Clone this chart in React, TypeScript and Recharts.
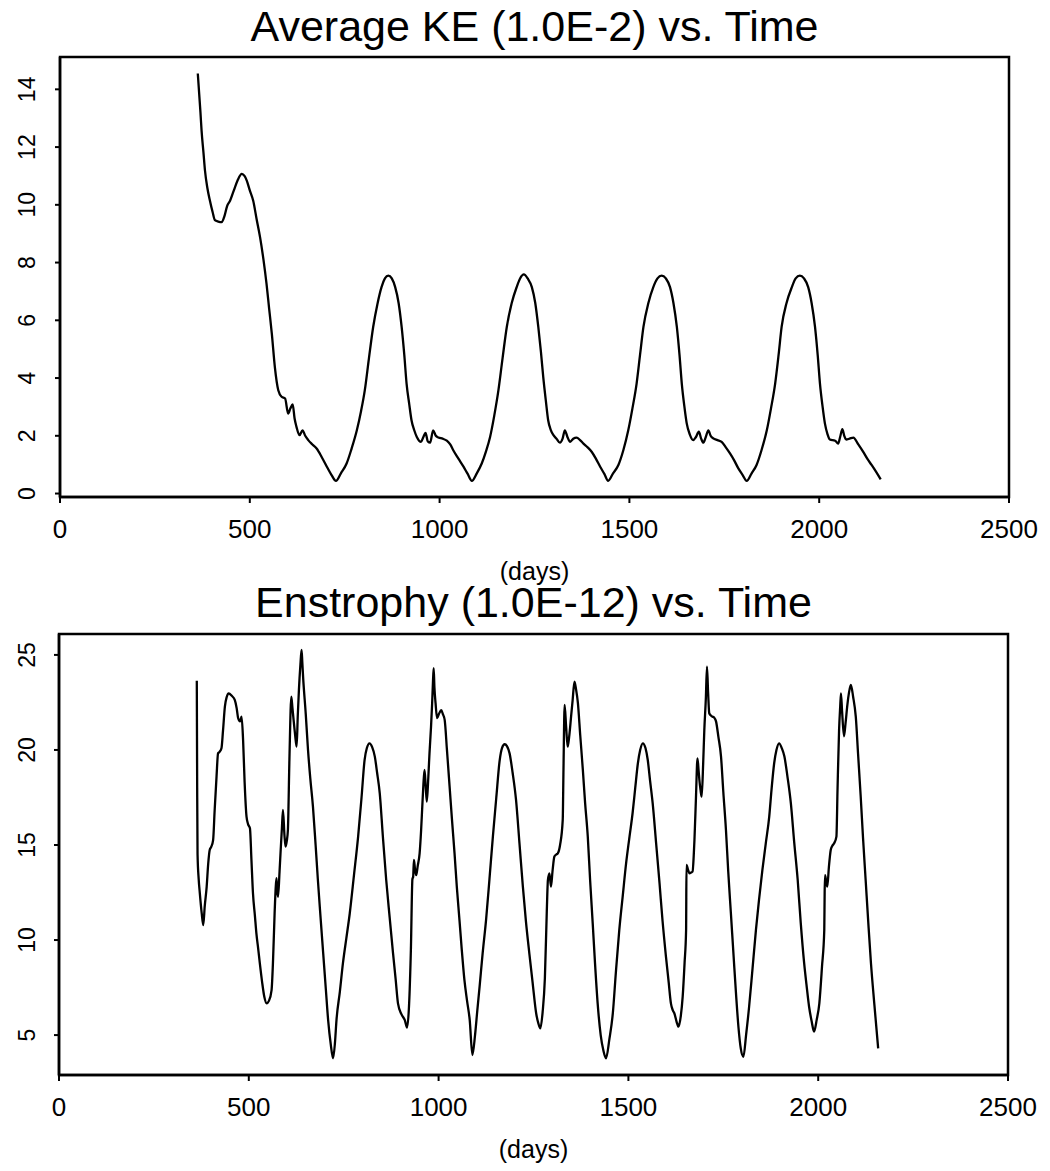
import React from 'react';
import { LineChart, Line, XAxis, YAxis, ReferenceArea } from 'recharts';

const FONT = '"Liberation Sans", Arial, Helvetica, sans-serif';

const keTitle = 'Average KE (1.0E-2) vs. Time';
const enTitle = 'Enstrophy (1.0E-12) vs. Time';
const xLabel = '(days)';

const xTicks = [0, 500, 1000, 1500, 2000, 2500];
const keTicks = [0, 2, 4, 6, 8, 10, 12, 14];
const enTicks = [5, 10, 15, 20, 25];

const keDays = [
  363, 370, 373, 378, 382, 388, 395, 402, 408, 417, 426, 433, 440, 448, 458, 468, 479, 486, 492, 500,
  509, 518, 527, 536, 544, 551, 558, 566, 575, 584, 593, 601, 607, 613, 618, 623, 631, 639, 646, 654,
  665, 676, 690, 703, 715, 727, 740, 755, 768, 782, 793, 803, 814, 825, 836, 847, 856, 865, 874, 883,
  892, 900, 907, 913, 920, 926, 933, 940, 951, 957, 963, 969, 975, 983, 990, 997, 1008, 1019, 1028, 1036,
  1050, 1063, 1074, 1085, 1098, 1111, 1122, 1133, 1144, 1155, 1166, 1177, 1190, 1203, 1212, 1222, 1232, 1243, 1252, 1260,
  1267, 1273, 1280, 1286, 1293, 1300, 1308, 1317, 1324, 1330, 1337, 1344, 1352, 1361, 1370, 1379, 1390, 1401, 1412, 1423,
  1434, 1444, 1457, 1471, 1484, 1497, 1508, 1519, 1528, 1537, 1550, 1563, 1574, 1585, 1596, 1607, 1616, 1625, 1632, 1638,
  1645, 1651, 1659, 1668, 1675, 1683, 1689, 1695, 1701, 1708, 1714, 1721, 1732, 1743, 1754, 1765, 1776, 1787, 1798, 1809,
  1822, 1835, 1848, 1862, 1873, 1884, 1893, 1901, 1914, 1928, 1938, 1949, 1960, 1971, 1980, 1989, 1996, 2002, 2009, 2015,
  2022, 2028, 2042, 2050, 2055, 2061, 2066, 2071, 2080, 2090, 2103, 2116, 2127, 2138, 2150, 2162,
];
const keValues = [
  14.55, 13.2, 12.56, 11.8, 11.18, 10.6, 10.14, 9.75, 9.47, 9.42, 9.4, 9.6, 9.95, 10.14, 10.5, 10.85, 11.07, 11.0, 10.84, 10.5,
  10.14, 9.5, 8.88, 8.1, 7.27, 6.4, 5.54, 4.38, 3.58, 3.35, 3.29, 2.77, 2.95, 3.09, 2.6, 2.31, 2.02, 2.19, 2.0, 1.85,
  1.7, 1.56, 1.25, 0.93, 0.65, 0.44, 0.7, 1.04, 1.55, 2.19, 2.85, 3.58, 4.7, 5.77, 6.55, 7.15, 7.45, 7.55, 7.45, 7.15,
  6.6, 5.77, 4.8, 3.81, 3.1, 2.54, 2.2, 1.96, 1.79, 1.95, 2.1, 1.8, 1.76, 2.19, 2.0, 1.94, 1.9, 1.83, 1.7, 1.5,
  1.2, 0.93, 0.68, 0.44, 0.7, 1.04, 1.45, 1.96, 2.7, 3.58, 4.7, 5.77, 6.6, 7.15, 7.45, 7.59, 7.45, 7.15, 6.6, 5.77,
  4.9, 4.04, 3.2, 2.54, 2.2, 2.02, 1.9, 1.76, 1.9, 2.19, 1.95, 1.79, 1.9, 1.94, 1.85, 1.73, 1.6, 1.44, 1.2, 0.93,
  0.68, 0.44, 0.7, 0.99, 1.5, 2.19, 2.95, 3.81, 4.8, 5.77, 6.6, 7.15, 7.45, 7.55, 7.45, 7.15, 6.6, 5.77, 4.8, 3.81,
  3.0, 2.43, 2.05, 1.85, 1.95, 2.14, 1.9, 1.76, 1.95, 2.19, 2.0, 1.91, 1.85, 1.79, 1.6, 1.39, 1.15, 0.87, 0.65, 0.44,
  0.7, 0.99, 1.5, 2.19, 2.95, 3.81, 4.8, 5.77, 6.6, 7.15, 7.45, 7.55, 7.45, 7.15, 6.6, 5.77, 4.8, 3.81, 3.0, 2.43,
  2.05, 1.87, 1.83, 1.73, 1.95, 2.23, 2.0, 1.87, 1.9, 1.94, 1.7, 1.44, 1.2, 0.99, 0.75, 0.49,
];

const enDays = [
  363, 364, 365, 368, 371, 376, 380, 384, 389, 393, 397, 401, 406, 410, 415, 419, 423, 428, 432, 437,
  442, 447, 455, 463, 468, 472, 477, 481, 485, 489, 494, 498, 503, 507, 511, 516, 520, 525, 529, 535,
  541, 547, 553, 560, 564, 568, 571, 573, 575, 577, 581, 584, 587, 590, 594, 597, 600, 603, 607, 612,
  615, 618, 622, 626, 629, 632, 636, 639, 641, 643, 650, 656, 662, 669, 676, 682, 689, 696, 703, 709,
  716, 722, 727, 731, 740, 748, 757, 766, 777, 788, 797, 805, 811, 818, 825, 832, 838, 845, 853, 862,
  871, 880, 887, 893, 902, 911, 917, 922, 927, 931, 933, 935, 938, 941, 945, 950, 954, 957, 960, 963,
  966, 969, 973, 976, 980, 983, 985, 987, 989, 992, 996, 1001, 1007, 1011, 1016, 1022, 1029, 1035, 1042, 1048,
  1055, 1061, 1068, 1075, 1082, 1089, 1096, 1102, 1108, 1116, 1125, 1134, 1143, 1152, 1161, 1167, 1174, 1180, 1187, 1195,
  1204, 1213, 1222, 1230, 1239, 1248, 1257, 1263, 1268, 1274, 1280, 1285, 1288, 1292, 1296, 1300, 1305, 1310, 1314, 1320,
  1327, 1329, 1332, 1336, 1340, 1344, 1349, 1353, 1358, 1362, 1367, 1373, 1380, 1386, 1393, 1399, 1406, 1412, 1419, 1427,
  1434, 1441, 1450, 1459, 1467, 1476, 1485, 1494, 1502, 1511, 1518, 1525, 1531, 1538, 1545, 1551, 1557, 1564, 1573, 1582,
  1590, 1599, 1606, 1612, 1617, 1621, 1627, 1632, 1638, 1643, 1648, 1652, 1653, 1657, 1661, 1665, 1669, 1672, 1674, 1678,
  1682, 1685, 1687, 1690, 1693, 1697, 1700, 1704, 1707, 1710, 1713, 1718, 1722, 1726, 1731, 1737, 1744, 1750, 1757, 1763,
  1770, 1777, 1784, 1790, 1796, 1803, 1810, 1818, 1827, 1836, 1844, 1853, 1862, 1871, 1877, 1884, 1890, 1897, 1904, 1911,
  1919, 1928, 1937, 1946, 1954, 1963, 1970, 1976, 1983, 1989, 1996, 2003, 2010, 2016, 2017, 2018, 2021, 2024, 2028, 2033,
  2037, 2042, 2048, 2051, 2055, 2058, 2060, 2063, 2068, 2072, 2077, 2081, 2086, 2092, 2099, 2105, 2112, 2118, 2125, 2132,
  2139, 2148, 2158,
];
const enValues = [
  23.64, 18.0, 14.5, 13.2, 12.46, 11.4, 10.79, 11.8, 12.8, 14.0, 14.74, 14.9, 15.26, 16.8, 18.6, 19.82, 19.9, 20.09, 21.0, 22.28,
  22.8, 22.98, 22.85, 22.63, 22.2, 21.67, 21.5, 21.75, 20.5, 18.3, 16.49, 16.1, 15.88, 14.2, 12.46, 11.3, 10.35, 9.5, 8.78, 7.8,
  7.0, 6.67, 6.8, 7.37, 9.0, 11.41, 12.8, 13.25, 12.6, 12.28, 13.6, 14.74, 15.8, 16.84, 15.5, 14.91, 15.2, 15.79, 19.5, 22.8,
  22.2, 21.58, 20.8, 20.17, 21.8, 23.15, 24.5, 25.26, 24.6, 23.86, 21.9, 20.0, 18.5, 17.02, 15.0, 13.16, 11.2, 9.3, 7.4, 5.79,
  4.5, 3.78, 4.6, 5.79, 7.3, 8.78, 10.1, 11.41, 13.4, 15.44, 17.5, 19.47, 20.1, 20.35, 20.15, 19.65, 18.8, 17.72, 15.5, 13.16,
  11.2, 9.3, 7.9, 6.67, 6.1, 5.79, 5.4, 6.5, 9.5, 13.2, 13.33, 14.21, 13.7, 13.42, 13.9, 14.56, 15.8, 17.02, 18.2, 18.95,
  18.1, 17.28, 18.6, 19.82, 21.2, 22.46, 23.5, 24.3, 23.3, 22.46, 21.67, 21.9, 22.1, 21.9, 21.58, 20.0, 18.07, 16.4, 14.56, 12.8,
  11.05, 9.5, 7.9, 6.8, 5.79, 3.95, 5.0, 6.3, 7.55, 9.3, 11.05, 13.2, 15.44, 17.5, 19.47, 20.1, 20.3, 20.2, 19.82, 18.8,
  17.37, 15.1, 12.81, 11.0, 9.3, 7.7, 6.15, 5.6, 5.35, 6.2, 8.0, 11.5, 13.16, 13.51, 12.81, 13.6, 14.39, 14.5, 14.56, 15.0,
  16.32, 19.0, 22.37, 21.2, 20.17, 20.7, 21.75, 22.6, 23.59, 23.2, 22.46, 20.8, 18.95, 17.2, 15.44, 13.2, 10.88, 8.8, 6.67, 5.0,
  4.2, 3.78, 4.8, 6.15, 8.3, 10.53, 12.3, 14.04, 15.3, 16.67, 18.0, 19.3, 20.0, 20.35, 20.1, 19.47, 18.4, 17.19, 15.1, 12.99,
  11.0, 9.12, 7.8, 6.67, 6.3, 6.15, 5.7, 5.44, 6.0, 7.02, 8.8, 10.53, 13.95, 13.7, 13.51, 13.55, 13.6, 14.4, 15.26, 17.5,
  19.56, 18.9, 18.42, 17.9, 17.54, 19.3, 21.05, 22.7, 24.38, 23.0, 21.93, 21.8, 21.75, 21.7, 21.49, 20.7, 19.65, 17.8, 15.79, 13.6,
  11.41, 9.2, 7.02, 5.4, 4.3, 3.86, 5.0, 6.49, 8.5, 10.53, 12.1, 13.69, 15.1, 16.49, 17.9, 19.3, 20.0, 20.35, 20.1, 19.65,
  18.6, 17.19, 15.1, 13.16, 10.9, 8.78, 7.5, 6.49, 5.7, 5.18, 5.8, 6.67, 8.6, 10.53, 12.5, 13.42, 13.1, 12.81, 13.8, 14.74,
  14.95, 15.09, 15.44, 18.0, 21.05, 22.3, 22.98, 22.0, 20.72, 21.4, 22.4, 23.0, 23.42, 22.8, 21.75, 19.8, 17.54, 15.4, 13.16, 10.9,
  8.78, 6.6, 4.3,
];

const keData = keDays.map((d, i) => ({ day: d, v: keValues[i] }));
const enData = enDays.map((d, i) => ({ day: d, v: enValues[i] }));

const axisLine = { stroke: '#000', strokeWidth: 2.5 };
const tickLine = { stroke: '#000', strokeWidth: 2 };

const renderYTick = (props: any) => {
  const { y, payload } = props;
  return (
    <text
      x={35}
      y={y}
      transform={`rotate(-90, 35, ${y})`}
      textAnchor="middle"
      fill="#000"
      style={{ fontSize: 23, fontFamily: FONT }}
    >
      {payload.value}
    </text>
  );
};

type PanelProps = {
  data: { day: number; v: number }[];
  top: number;
  height: number;
  marginTop: number;
  leftW: number;
  rightM: number;
  xAxisH: number;
  labelOffset: number;
  titleOffset: number;
  title: string;
  yDomain: [number, number];
  yTicks: number[];
};

const Panel = (p: PanelProps) => (
  <div style={{ position: 'absolute', left: 0, top: p.top, width: 1050, height: p.height }}>
    <LineChart
      width={1050}
      height={p.height}
      data={p.data}
      margin={{ top: p.marginTop, right: p.rightM, bottom: 0, left: 0 }}
    >
      <XAxis
        dataKey="day"
        type="number"
        domain={[0, 2500]}
        ticks={xTicks}
        interval={0}
        height={p.xAxisH}
        tickSize={6}
        tickMargin={17}
        axisLine={axisLine}
        tickLine={tickLine}
        tick={{ fill: '#000', fontSize: 26, fontFamily: FONT }}
        allowDataOverflow
        label={{
          value: xLabel,
          position: 'insideBottom',
          offset: p.labelOffset,
          fill: '#000',
          fontSize: 25,
          fontFamily: FONT,
        }}
      />
      <YAxis
        type="number"
        domain={p.yDomain}
        ticks={p.yTicks}
        interval={0}
        width={p.leftW}
        tickSize={5}
        axisLine={axisLine}
        tickLine={tickLine}
        tick={renderYTick}
        allowDataOverflow
      />
      <ReferenceArea
        x1={0}
        x2={2500}
        y1={p.yDomain[0]}
        y2={p.yDomain[1]}
        fill="none"
        fillOpacity={0}
        stroke="#000"
        strokeWidth={2.5}
        ifOverflow="visible"
        label={{
          value: p.title,
          position: 'top',
          offset: p.titleOffset,
          fill: '#000',
          fontSize: 43,
          fontFamily: FONT,
        }}
      />
      <Line
        dataKey="v"
        type="monotone"
        stroke="#000"
        strokeWidth={2.3}
        dot={false}
        activeDot={false}
        isAnimationActive={false}
      />
    </LineChart>
  </div>
);

export default function App() {
  return (
    <div style={{ position: 'absolute', left: 0, top: 0, width: 1050, height: 1171, background: '#fff' }}>
      <Panel
        data={keData}
        top={0}
        height={590}
        marginTop={57}
        leftW={60}
        rightM={41}
        xAxisH={93}
        labelOffset={10}
        titleOffset={16}
        title={keTitle}
        yDomain={[-0.12, 15.12]}
        yTicks={keTicks}
      />
      <Panel
        data={enData}
        top={560}
        height={611}
        marginTop={74}
        leftW={59}
        rightM={42}
        xAxisH={96}
        labelOffset={13}
        titleOffset={17}
        title={enTitle}
        yDomain={[2.9, 26.1]}
        yTicks={enTicks}
      />
    </div>
  );
}
